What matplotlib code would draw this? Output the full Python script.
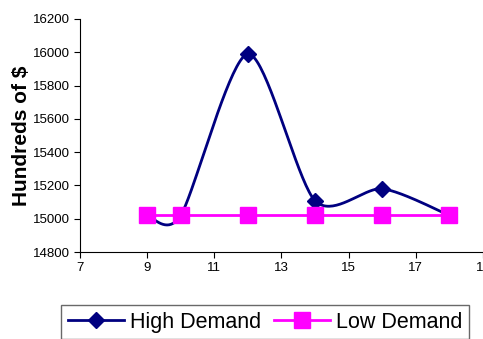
import numpy as np
import matplotlib
matplotlib.use("Agg")
import matplotlib.pyplot as plt

# Data
x_vals = [9, 10, 12, 14, 16, 18]
high_demand = [15020, 15020, 15990, 15108, 15180, 15020]
low_demand = [15020, 15020, 15020, 15020, 15020, 15020]

x_ticks = [7, 9, 11, 13, 15, 17, 19]
y_ticks = [14800, 15000, 15200, 15400, 15600, 15800, 16000, 16200]


def smooth(xs, ys, n=40, k=7.5):
    """Catmull-Rom style smoothing, similar to Excel's smoothed line."""
    xs = np.asarray(xs, float)
    ys = np.asarray(ys, float)
    px = np.concatenate([[xs[0]], xs, [xs[-1]]])
    py = np.concatenate([[ys[0]], ys, [ys[-1]]])
    out_x, out_y = [], []
    for i in range(1, len(px) - 2):
        p0 = np.array([px[i], py[i]])
        p3 = np.array([px[i + 1], py[i + 1]])
        c1 = p0 + (np.array([px[i + 1], py[i + 1]]) - np.array([px[i - 1], py[i - 1]])) / k
        c2 = p3 - (np.array([px[i + 2], py[i + 2]]) - np.array([px[i], py[i]])) / k
        t = np.linspace(0, 1, n)[:, None]
        b = ((1 - t) ** 3) * p0 + 3 * ((1 - t) ** 2) * t * c1 + 3 * (1 - t) * t ** 2 * c2 + t ** 3 * p3
        out_x.extend(b[:, 0])
        out_y.extend(b[:, 1])
    return out_x, out_y


plt.rcParams["font.family"] = ["Liberation Sans", "DejaVu Sans"]

fig = plt.figure(figsize=(4.83, 3.39), dpi=100)
ax = fig.add_axes([0.1656, 0.2566, 0.8344, 0.6874])

navy = "#000080"
magenta = "#FF00FF"

sx, sy = smooth(x_vals, high_demand)
ax.plot(sx, sy, color=navy, linewidth=2, zorder=2)
ax.plot(x_vals, high_demand, linestyle="none", marker="D", markersize=8,
        color=navy, zorder=3)
line_h, = ax.plot([], [], color=navy, linewidth=2, marker="D", markersize=8,
                  label="High Demand")

line_l, = ax.plot(x_vals, low_demand, color=magenta, linewidth=2, marker="s",
                  markersize=11, zorder=4, label="Low Demand")

ax.set_xlim(7, 19)
ax.set_ylim(14800, 16200)
ax.set_xticks(x_ticks)
ax.set_yticks(y_ticks)
ax.tick_params(labelsize=9.5, length=4, direction="out", color="black")
ax.spines["top"].set_visible(False)
ax.spines["right"].set_visible(False)
ax.set_ylabel("Hundreds of $", fontsize=15, fontweight="bold", labelpad=1)

leg = fig.legend(handles=[line_h, line_l], labels=["High Demand", "Low Demand"],
                 loc="upper center", bbox_to_anchor=(0.549, 0.10), ncol=2,
                 fontsize=15.5, frameon=True, fancybox=False, edgecolor="#444444",
                 handlelength=2.6, columnspacing=0.6, handletextpad=0.3,
                 borderpad=0.3, borderaxespad=0)
leg.get_frame().set_linewidth(1)

fig.savefig("out.png", dpi=100)
